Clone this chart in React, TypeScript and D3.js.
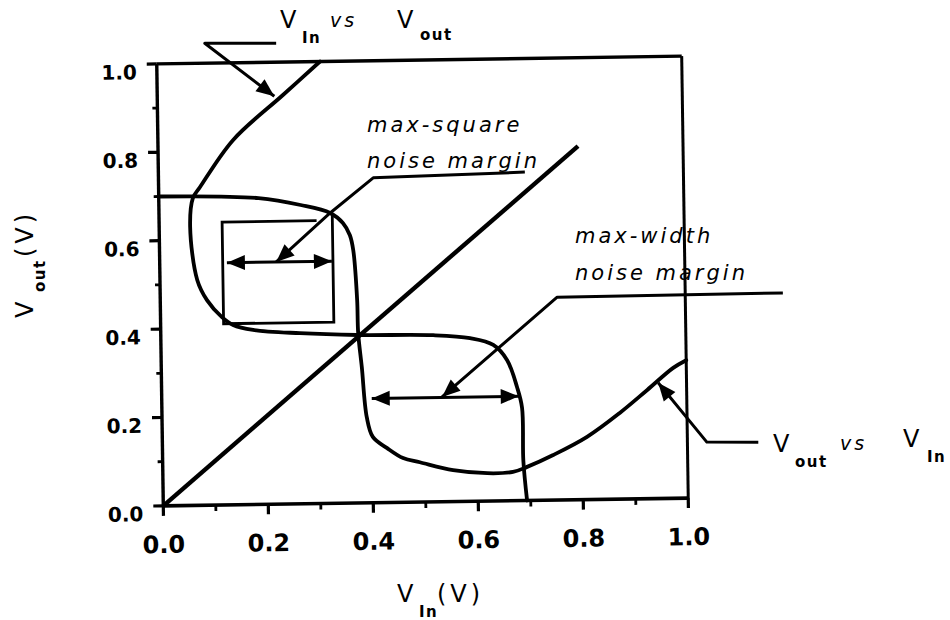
import React from 'react';
import * as d3 from 'd3';

// Axis ticks (volts)
const TICKS = [0, 0.2, 0.4, 0.6, 0.8, 1.0];
const TICK_LABELS = ['0.0', '0.2', '0.4', '0.6', '0.8', '1.0'];
const MINOR_TICKS = [0.1, 0.3, 0.5, 0.7, 0.9];

// Inverter transfer curve: V_out as a function of V_in
const VTC_VIN = [0, 0.19, 0.27, 0.326, 0.35, 0.363, 0.369, 0.375, 0.376, 0.382, 0.39, 0.401, 0.428, 0.458, 0.49, 0.553, 0.618, 0.667, 0.694, 0.744, 0.809, 0.872, 0.925, 0.975, 1.0];
const VTC_VOUT = [0.7, 0.693, 0.676, 0.657, 0.634, 0.606, 0.572, 0.459, 0.385, 0.307, 0.194, 0.149, 0.123, 0.1, 0.09, 0.071, 0.063, 0.065, 0.076, 0.102, 0.142, 0.195, 0.246, 0.295, 0.312];

// Second inverter, mirrored: V_in plotted against V_out
const MIRROR_VOUT = [0, 0.09, 0.21, 0.257, 0.318, 0.353, 0.369, 0.377, 0.38, 0.386, 0.395, 0.407, 0.425, 0.464, 0.51, 0.63, 0.695, 0.72, 0.825, 0.926, 1.0];
const MIRROR_VIN = [0.693, 0.687, 0.686, 0.677, 0.659, 0.633, 0.589, 0.519, 0.374, 0.265, 0.176, 0.138, 0.117, 0.089, 0.071, 0.059, 0.065, 0.079, 0.143, 0.24, 0.311];

// Unity-gain diagonal V_out = V_in
const UNITY_VIN = [0, 0.8];
const UNITY_VOUT = [0, 0.8];

// Largest square nested in the upper eye
const SQUARE_VIN = [0.12, 0.33];
const SQUARE_VOUT = [0.41, 0.64];
const SQUARE_CORNER_VOUT = 0.657;
const SQUARE_ARROW_VIN = [0.128, 0.328];
const SQUARE_ARROW_VOUT = 0.548;

// Widest horizontal span in the lower eye
const WIDTH_ARROW_VIN = [0.4, 0.68];
const WIDTH_ARROW_VOUT = 0.236;

// Leader lines [V_in, V_out], the last point carries the arrowhead
const SQUARE_LEADER: [number, number][] = [[0.698, 0.743], [0.409, 0.735], [0.326, 0.657], [0.222, 0.548]];
const WIDTH_LEADER: [number, number][] = [[1.186, 0.461], [0.756, 0.459], [0.534, 0.237]];
const MIRROR_LEADER: [number, number][] = [[0.228, 1.043], [0.092, 1.045], [0.223, 0.923]];
const VTC_LEADER: [number, number][] = [[1.135, 0.124], [1.037, 0.126], [0.946, 0.262]];

type P = [number, number];

function headPoints(tip: P, from: P, len = 18, half = 7.5) {
  const dx = tip[0] - from[0];
  const dy = tip[1] - from[1];
  const d = Math.hypot(dx, dy) || 1;
  const ux = dx / d, uy = dy / d;
  const bx = tip[0] - ux * len, by = tip[1] - uy * len;
  return `${tip[0]},${tip[1]} ${bx - uy * half},${by + ux * half} ${bx + uy * half},${by - ux * half}`;
}

const FONT = "'DejaVu Sans', 'Liberation Sans', sans-serif";

export default function App() {
  const W = 950, H = 620;
  const x = d3.scaleLinear().domain([0, 1]).range([160, 685]);
  const y = d3.scaleLinear().domain([0, 1]).range([502, 60]);
  const cx = (x(0) + x(1)) / 2;
  const cy = (y(0) + y(1)) / 2;
  const tilt = -0.85;

  const px = (d: P): P => [x(d[0]), y(d[1])];
  const straight = d3.line<P>().x(d => x(d[0])).y(d => y(d[1]));
  const smooth = d3.line<P>().x(d => x(d[0])).y(d => y(d[1])).curve(d3.curveCatmullRom.alpha(0.5));

  const vtc: P[] = VTC_VIN.map((v, i) => [v, VTC_VOUT[i]]);
  const mirror: P[] = MIRROR_VOUT.map((v, i) => [MIRROR_VIN[i], v]);
  const unity: P[] = UNITY_VIN.map((v, i) => [v, UNITY_VOUT[i]]);

  const box: P[] = [
    [SQUARE_VIN[1], SQUARE_CORNER_VOUT],
    [SQUARE_VIN[1], SQUARE_VOUT[0]],
    [SQUARE_VIN[0], SQUARE_VOUT[0]],
    [SQUARE_VIN[0], SQUARE_VOUT[1]],
    [SQUARE_VIN[1] - 0.03, SQUARE_VOUT[1]],
  ];

  const doubleArrow = (vins: number[], vout: number, key: string) => {
    const a = px([vins[0], vout]);
    const b = px([vins[1], vout]);
    return (
      <g key={key}>
        <line x1={a[0]} y1={a[1]} x2={b[0]} y2={b[1]} stroke="#000" strokeWidth={3} />
        <polygon points={headPoints(a, b)} fill="#000" />
        <polygon points={headPoints(b, a)} fill="#000" />
      </g>
    );
  };

  const leader = (pts: P[], key: string) => {
    const n = pts.length;
    return (
      <g key={key}>
        <path d={straight(pts) || ''} fill="none" stroke="#000" strokeWidth={3} strokeLinejoin="round" />
        <polygon points={headPoints(px(pts[n - 1]), px(pts[n - 2]))} fill="#000" />
      </g>
    );
  };

  const tickLabel = { fontFamily: FONT, fontWeight: 700, fill: '#000' } as const;
  const italic = { fontFamily: FONT, fontStyle: 'italic', fontSize: 21, letterSpacing: 3, fill: '#000' } as const;
  const big = { fontFamily: FONT, fontSize: 24, fill: '#000' } as const;
  const sub = { fontFamily: FONT, fontSize: 15, fontWeight: 700, letterSpacing: 1.5, fill: '#000' } as const;

  return (
    <svg width={W} height={H} style={{ position: 'absolute', left: 0, top: 0, background: '#fff' }}>
      <rect width={W} height={H} fill="#fff" />
      <g transform={`rotate(${tilt} ${cx} ${cy})`}>
        {/* frame */}
        <line x1={x(0)} y1={y(1)} x2={x(1)} y2={y(1)} stroke="#000" strokeWidth={3.4} />
        <line x1={x(1)} y1={y(1)} x2={x(1)} y2={y(0)} stroke="#000" strokeWidth={3} />
        <line x1={x(0)} y1={y(0)} x2={x(1)} y2={y(0)} stroke="#000" strokeWidth={3.6} />
        <line x1={x(0)} y1={y(0)} x2={x(0)} y2={y(1)} stroke="#000" strokeWidth={3.4} />

        {/* y axis ticks and labels */}
        {TICKS.map((t, i) => (
          <g key={`yt${i}`}>
            <line x1={x(0) - 10} y1={y(t)} x2={x(0)} y2={y(t)} stroke="#000" strokeWidth={3.2} />
            <text x={x(0) - 20} y={y(t) + 15} textAnchor="end" fontSize={20} {...tickLabel}>{TICK_LABELS[i]}</text>
          </g>
        ))}
        {MINOR_TICKS.map((t, i) => (
          <line key={`ym${i}`} x1={x(0) - 5} y1={y(t)} x2={x(0)} y2={y(t)} stroke="#000" strokeWidth={2.8} />
        ))}

        {/* x axis ticks and labels */}
        {TICKS.map((t, i) => (
          <g key={`xt${i}`}>
            <line x1={x(t)} y1={y(0)} x2={x(t)} y2={y(0) + 10} stroke="#000" strokeWidth={3.2} />
            <text x={x(t)} y={y(0) + 47} textAnchor="middle" fontSize={24} {...tickLabel}>{TICK_LABELS[i]}</text>
          </g>
        ))}
        {MINOR_TICKS.map((t, i) => (
          <line key={`xm${i}`} x1={x(t)} y1={y(0)} x2={x(t)} y2={y(0) + 6} stroke="#000" strokeWidth={2.8} />
        ))}

        {/* unity line */}
        <path d={straight(unity) || ''} fill="none" stroke="#000" strokeWidth={4.4} />

        {/* transfer curves */}
        <path d={smooth(vtc) || ''} fill="none" stroke="#000" strokeWidth={3.8} strokeLinejoin="round" strokeLinecap="round" />
        <path d={smooth(mirror) || ''} fill="none" stroke="#000" strokeWidth={3.8} strokeLinejoin="round" strokeLinecap="round" />

        {/* noise-margin square */}
        <path d={straight(box) || ''} fill="none" stroke="#000" strokeWidth={2.8} />
        {doubleArrow(SQUARE_ARROW_VIN, SQUARE_ARROW_VOUT, 'sq')}
        {doubleArrow(WIDTH_ARROW_VIN, WIDTH_ARROW_VOUT, 'wd')}

        {/* leader lines */}
        {leader(SQUARE_LEADER, 'l1')}
        {leader(WIDTH_LEADER, 'l2')}
        {leader(MIRROR_LEADER, 'l3')}
        {leader(VTC_LEADER, 'l4')}
      </g>

      {/* annotations */}
      <text x={367} y={132} {...italic}>max-square</text>
      <text x={367} y={168} {...italic}>noise margin</text>
      <text x={575} y={243} {...italic}>max-width</text>
      <text x={575} y={280} {...italic}>noise margin</text>

      <text x={280} y={28} {...big}>V</text>
      <text x={302} y={43} {...sub}>In</text>
      <text x={330} y={27} {...italic} fontSize={19}>vs</text>
      <text x={397} y={28} {...big}>V</text>
      <text x={420} y={40} {...sub}>out</text>

      <text x={773} y={452} {...big}>V</text>
      <text x={795} y={467} {...sub}>out</text>
      <text x={840} y={450} {...italic} fontSize={19}>vs</text>
      <text x={903} y={447} {...big}>V</text>
      <text x={927} y={462} {...sub}>In</text>

      {/* axis titles */}
      <text x={397} y={602} {...big}>V</text>
      <text x={419} y={617} {...sub}>In</text>
      <text x={437} y={602} {...big} letterSpacing={4}>(V)</text>

      <text transform="translate(33,318) rotate(-90)" {...big}>V</text>
      <text transform="translate(45,292) rotate(-90)" {...sub}>out</text>
      <text transform="translate(33,257) rotate(-90)" {...big} letterSpacing={4}>(V)</text>
    </svg>
  );
}
